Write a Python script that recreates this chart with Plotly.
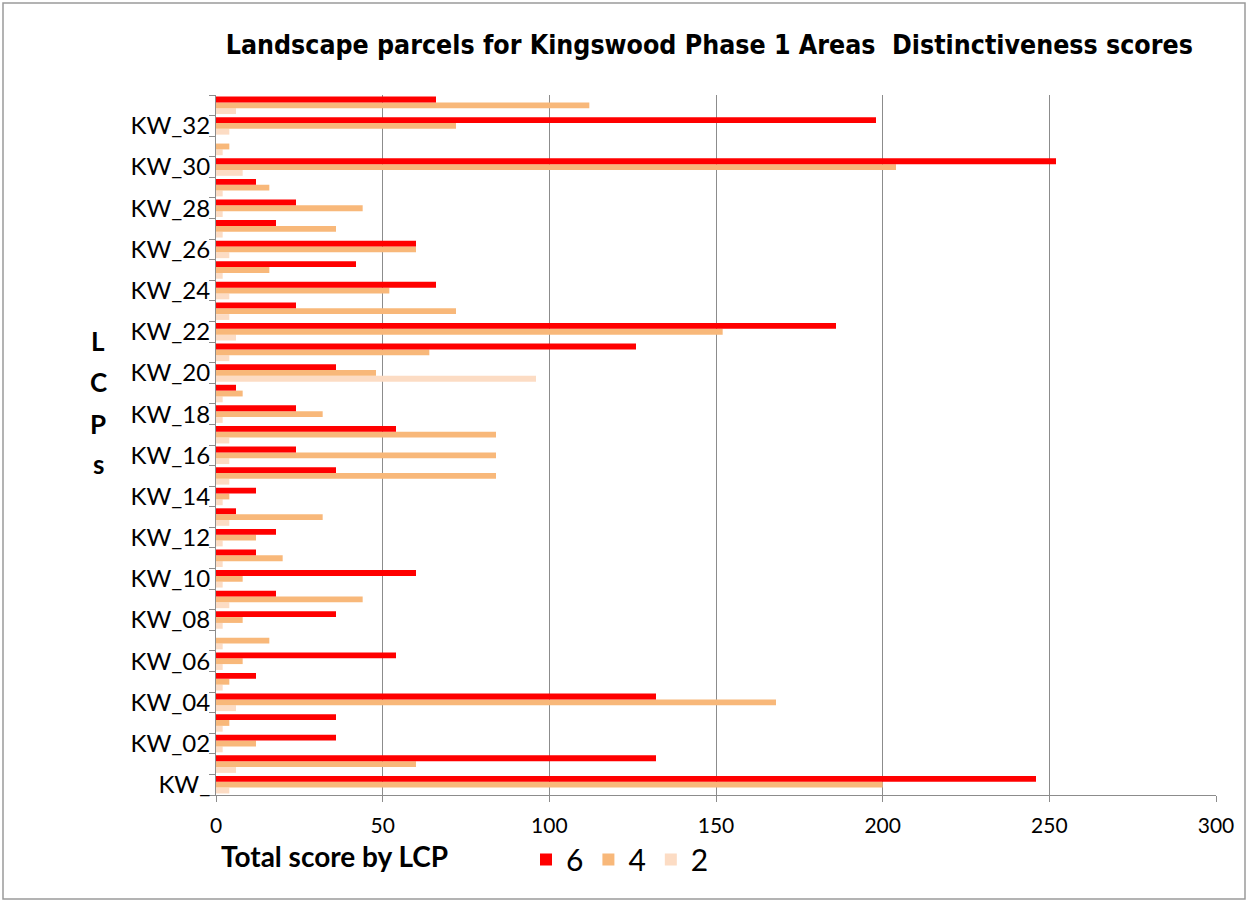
import plotly.graph_objects as go

categories = ["KW_"] + [f"KW_{i:02d}" for i in range(1, 34)]

# values listed bottom (KW_) to top (KW_33)
score6 = [246, 132, 36, 36, 132, 12, 54, 0, 36, 18, 60, 12, 18, 6, 12, 36, 24, 54, 24, 6,
          36, 126, 186, 24, 66, 42, 60, 18, 24, 12, 252, 0, 198, 66]
score4 = [200, 60, 12, 4, 168, 4, 8, 16, 8, 44, 8, 20, 12, 32, 4, 84, 84, 84, 32, 8,
          48, 64, 152, 72, 52, 16, 60, 36, 44, 16, 204, 4, 72, 112]
score2 = [4, 6, 2, 2, 6, 2, 2, 2, 2, 4, 2, 2, 2, 4, 2, 4, 4, 4, 2, 2,
          96, 4, 6, 4, 4, 2, 4, 2, 2, 2, 8, 2, 4, 6]

series = [("2", score2, "#FCDCC4"), ("4", score4, "#F8B87A"), ("6", score6, "#FF0000")]

tick_text = [c if i % 2 == 0 else "" for i, c in enumerate(categories)]

fig = go.Figure()
for name, vals, col in series:
    fig.add_trace(go.Bar(
        y=categories, x=vals, name=name, orientation="h",
        marker=dict(color=col, line=dict(width=0)),
    ))

label_font = "Lato, Open Sans, sans-serif"

fig.update_layout(
    width=1251, height=904,
    margin=dict(l=216, r=35, t=95, b=109),
    paper_bgcolor="white", plot_bgcolor="white",
    barmode="group", bargap=0.15, bargroupgap=0,
    title=dict(
        text="<b>Landscape parcels for Kingswood Phase 1 Areas  Distinctiveness scores</b>",
        x=0.567, xanchor="center", y=0.95, yanchor="middle",
        font=dict(family="Liberation Sans Narrow, DejaVu Sans Condensed, Arial Narrow, sans-serif",
                  size=26.5, color="black"),
    ),
    xaxis=dict(
        range=[0, 300], tickvals=[0, 50, 100, 150, 200, 250, 300],
        showgrid=True, gridcolor="#8C8C8C", gridwidth=1,
        showline=True, linecolor="#8C8C8C", linewidth=1,
        ticks="outside", ticklen=6, tickcolor="#8C8C8C",
        ticklabelstandoff=6,
        tickfont=dict(family=label_font, size=21, color="black"),
        zeroline=False, fixedrange=True,
    ),
    yaxis=dict(
        type="category", categoryorder="array", categoryarray=categories,
        tickvals=categories, ticktext=tick_text, tickson="boundaries",
        showline=True, linecolor="#8C8C8C", linewidth=1,
        ticks="outside", ticklen=6, tickcolor="#8C8C8C",
        tickfont=dict(family=label_font, size=24, color="black"),
        showgrid=False, range=[-0.5, 33.5],
    ),
    legend=dict(
        orientation="h", traceorder="reversed",
        x=0.31, xanchor="left", y=-0.055, yanchor="top",
        font=dict(family=label_font, size=30, color="black"),
        bgcolor="rgba(0,0,0,0)",
    ),
    showlegend=True,
)

# stacked y-axis title letters
for letter, ypix in zip(["L", "C", "P", "s"], [341, 382, 424, 464]):
    fig.add_annotation(
        text=f"<b>{letter}</b>", xref="paper", yref="paper",
        x=(98 - 216) / 1000, y=(795 - ypix) / 700,
        showarrow=False, xanchor="center", yanchor="middle",
        font=dict(family=label_font, size=26, color="black"),
    )

fig.add_annotation(
    text="<b>Total score by LCP</b>", xref="paper", yref="paper",
    x=(219 - 216) / 1000, y=(795 - 856) / 700,
    showarrow=False, xanchor="left", yanchor="middle",
    font=dict(family=label_font, size=28, color="black"),
)

# outer chart border
fig.add_shape(
    type="rect", xref="paper", yref="paper",
    x0=(3 - 216) / 1000, x1=(1245 - 216) / 1000,
    y0=(795 - 899) / 700, y1=(795 - 3) / 700,
    line=dict(color="#9A9A9A", width=1.5), fillcolor="rgba(0,0,0,0)", layer="below",
)

fig.write_html("out.html", config={"displayModeBar": False},
               post_script="document.body.style.margin='0';")
